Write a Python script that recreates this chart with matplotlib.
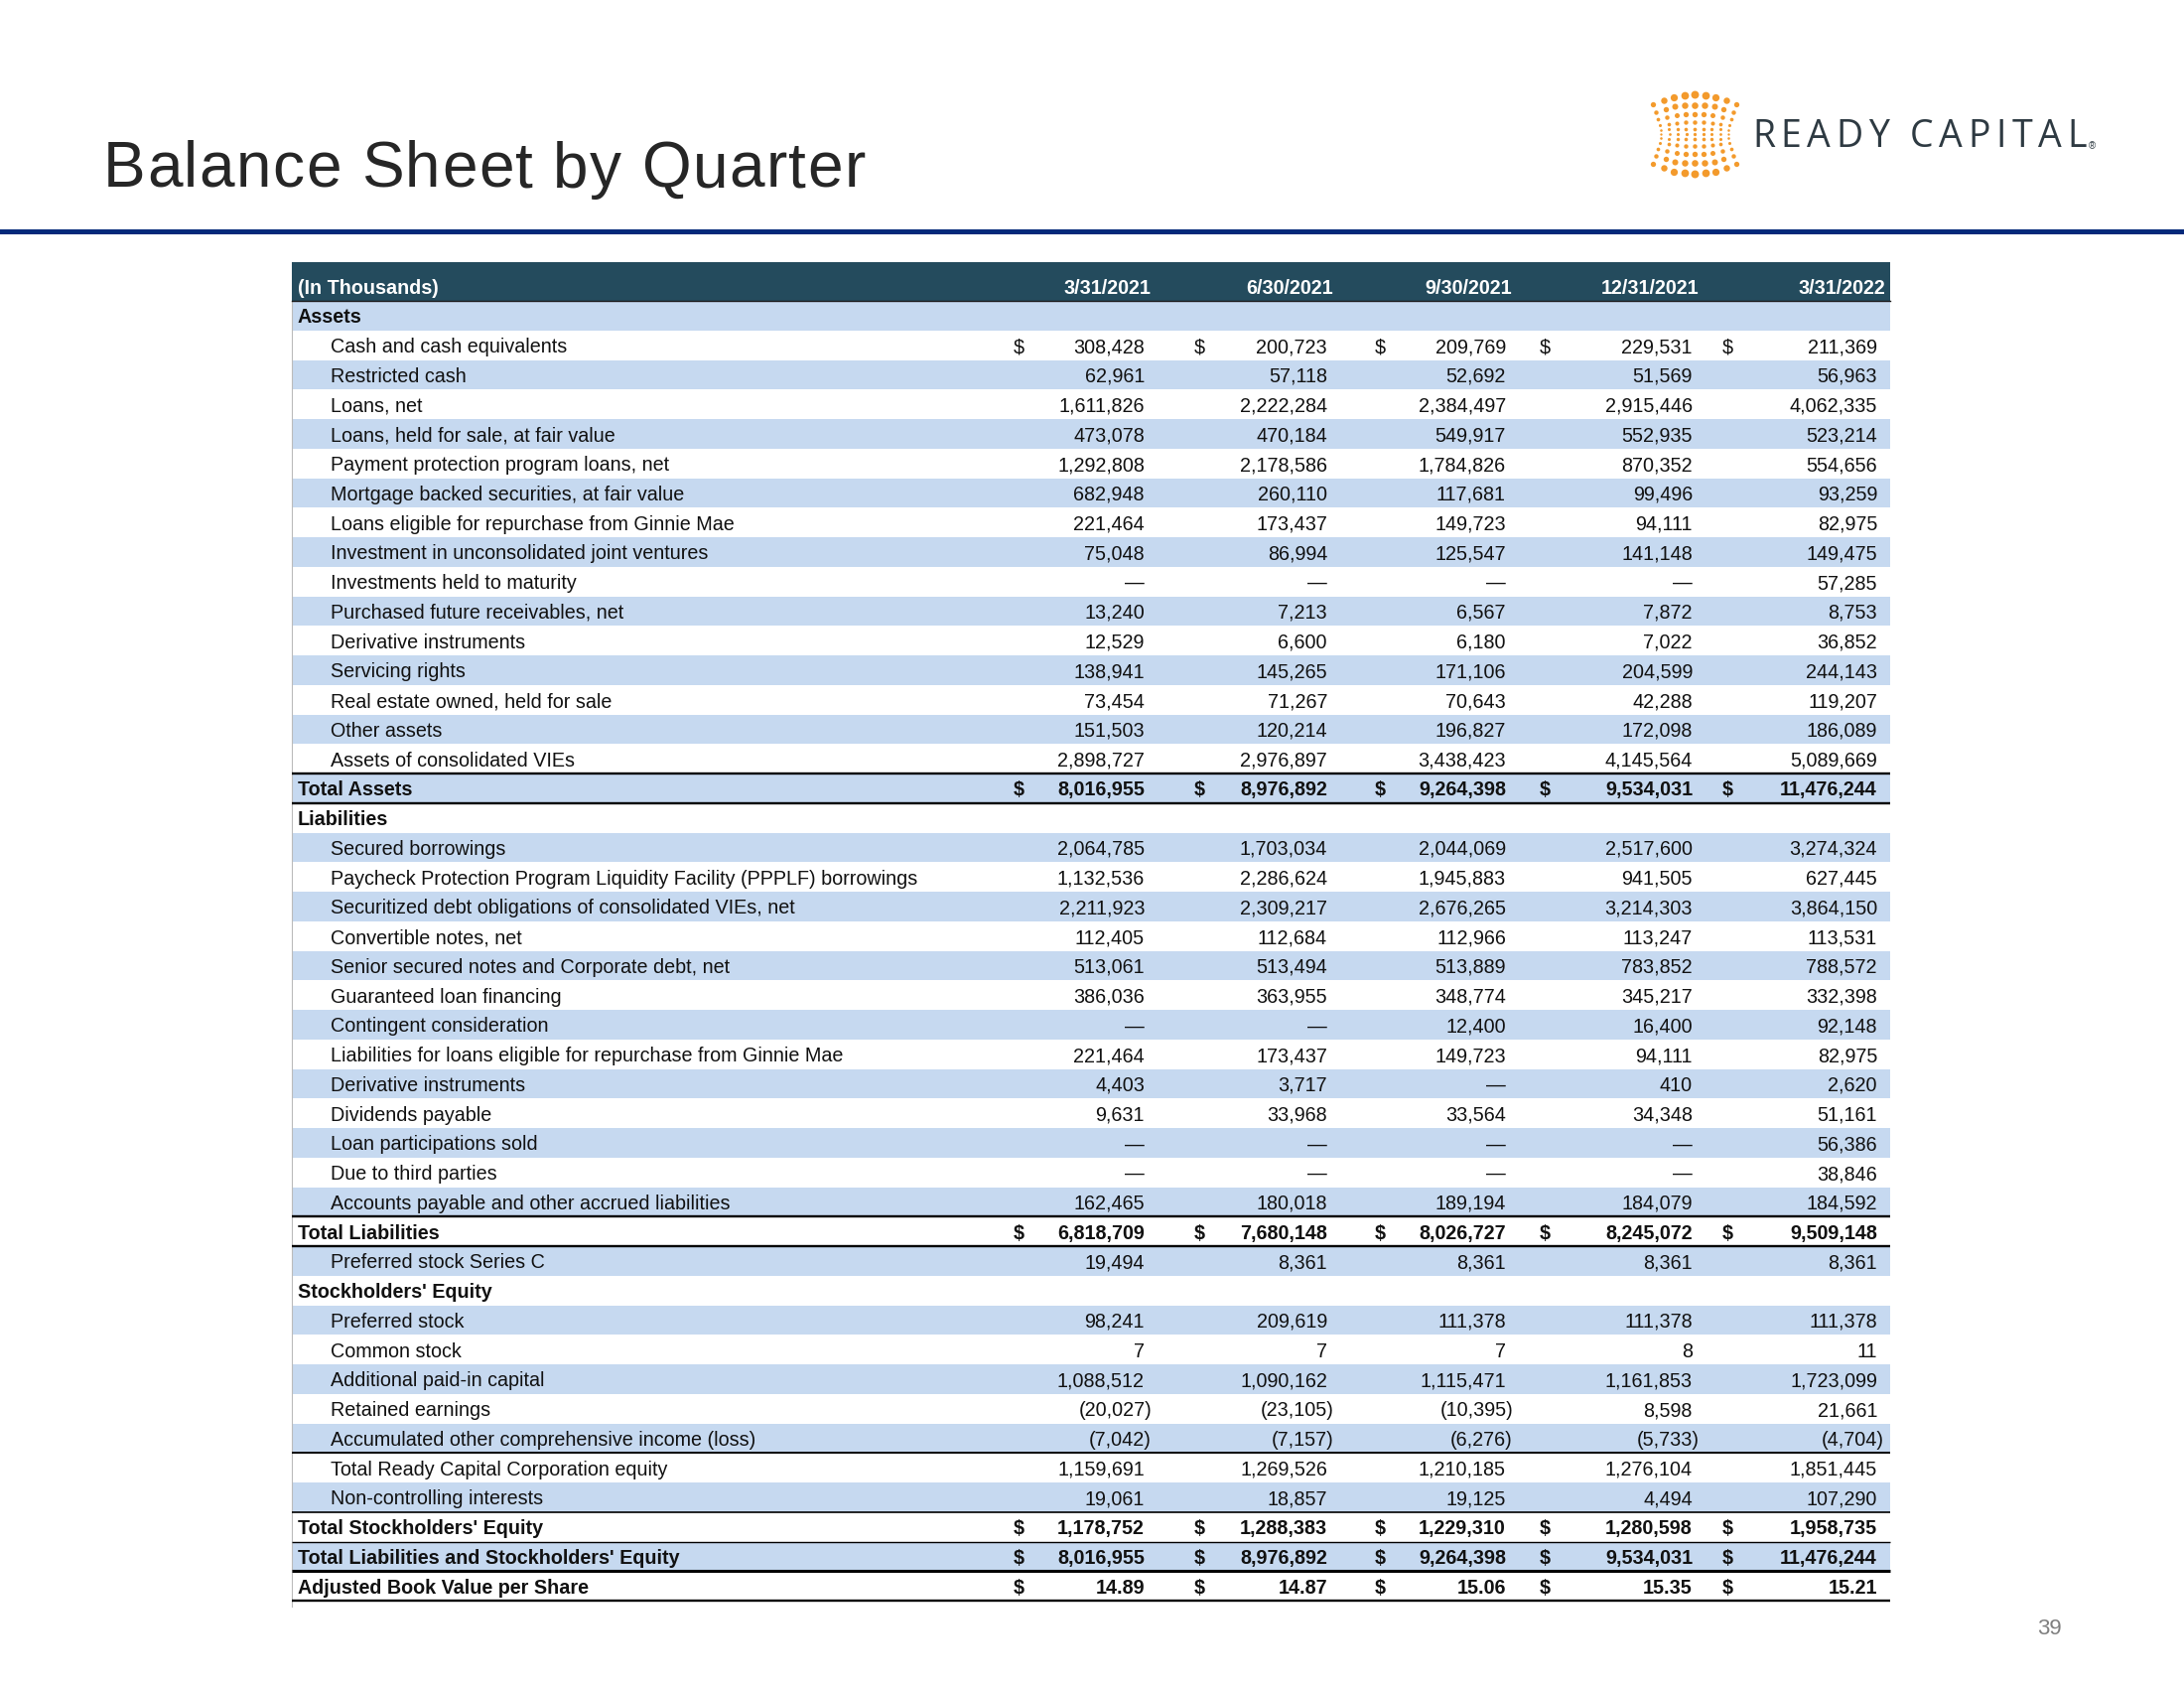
import numpy as np
import matplotlib
matplotlib.use("Agg")
import matplotlib.pyplot as plt
from matplotlib.patches import Rectangle
from matplotlib.font_manager import FontProperties

# ---------------------------------------------------------------------------
# Data (in thousands); None = blank cell, 0 = dash
# ---------------------------------------------------------------------------
quarters = ["3/31/2021", "6/30/2021", "9/30/2021", "12/31/2021", "3/31/2022"]

labels = [
    "Assets",
    "Cash and cash equivalents",
    "Restricted cash",
    "Loans, net",
    "Loans, held for sale, at fair value",
    "Payment protection program loans, net",
    "Mortgage backed securities, at fair value",
    "Loans eligible for repurchase from Ginnie Mae",
    "Investment in unconsolidated joint ventures",
    "Investments held to maturity",
    "Purchased future receivables, net",
    "Derivative instruments",
    "Servicing rights",
    "Real estate owned, held for sale",
    "Other assets",
    "Assets of consolidated VIEs",
    "Total Assets",
    "Liabilities",
    "Secured borrowings",
    "Paycheck Protection Program Liquidity Facility (PPPLF) borrowings",
    "Securitized debt obligations of consolidated VIEs, net",
    "Convertible notes, net",
    "Senior secured notes and Corporate debt, net",
    "Guaranteed loan financing",
    "Contingent consideration",
    "Liabilities for loans eligible for repurchase from Ginnie Mae",
    "Derivative instruments",
    "Dividends payable",
    "Loan participations sold",
    "Due to third parties",
    "Accounts payable and other accrued liabilities",
    "Total Liabilities",
    "Preferred stock Series C",
    "Stockholders' Equity",
    "Preferred stock",
    "Common stock",
    "Additional paid-in capital",
    "Retained earnings",
    "Accumulated other comprehensive income (loss)",
    "Total Ready Capital Corporation equity",
    "Non-controlling interests",
    "Total Stockholders' Equity",
    "Total Liabilities and Stockholders' Equity",
    "Adjusted Book Value per Share",
]

# s = section header, i = indented item, t = bold total
kinds = (["s"] + ["i"] * 15 + ["t", "s"] + ["i"] * 13 + ["t", "i", "s"]
         + ["i"] * 7 + ["t", "t", "t"])

dollar_rows = ["Cash and cash equivalents", "Total Assets", "Total Liabilities",
               "Total Stockholders' Equity",
               "Total Liabilities and Stockholders' Equity",
               "Adjusted Book Value per Share"]

q1 = [None, 308428, 62961, 1611826, 473078, 1292808, 682948, 221464, 75048, 0,
      13240, 12529, 138941, 73454, 151503, 2898727, 8016955,
      None, 2064785, 1132536, 2211923, 112405, 513061, 386036, 0, 221464,
      4403, 9631, 0, 0, 162465, 6818709, 19494,
      None, 98241, 7, 1088512, -20027, -7042, 1159691, 19061, 1178752,
      8016955, 14.89]
q2 = [None, 200723, 57118, 2222284, 470184, 2178586, 260110, 173437, 86994, 0,
      7213, 6600, 145265, 71267, 120214, 2976897, 8976892,
      None, 1703034, 2286624, 2309217, 112684, 513494, 363955, 0, 173437,
      3717, 33968, 0, 0, 180018, 7680148, 8361,
      None, 209619, 7, 1090162, -23105, -7157, 1269526, 18857, 1288383,
      8976892, 14.87]
q3 = [None, 209769, 52692, 2384497, 549917, 1784826, 117681, 149723, 125547, 0,
      6567, 6180, 171106, 70643, 196827, 3438423, 9264398,
      None, 2044069, 1945883, 2676265, 112966, 513889, 348774, 12400, 149723,
      0, 33564, 0, 0, 189194, 8026727, 8361,
      None, 111378, 7, 1115471, -10395, -6276, 1210185, 19125, 1229310,
      9264398, 15.06]
q4 = [None, 229531, 51569, 2915446, 552935, 870352, 99496, 94111, 141148, 0,
      7872, 7022, 204599, 42288, 172098, 4145564, 9534031,
      None, 2517600, 941505, 3214303, 113247, 783852, 345217, 16400, 94111,
      410, 34348, 0, 0, 184079, 8245072, 8361,
      None, 111378, 8, 1161853, 8598, -5733, 1276104, 4494, 1280598,
      9534031, 15.35]
q5 = [None, 211369, 56963, 4062335, 523214, 554656, 93259, 82975, 149475, 57285,
      8753, 36852, 244143, 119207, 186089, 5089669, 11476244,
      None, 3274324, 627445, 3864150, 113531, 788572, 332398, 92148, 82975,
      2620, 51161, 56386, 38846, 184592, 9509148, 8361,
      None, 111378, 11, 1723099, 21661, -4704, 1851445, 107290, 1958735,
      11476244, 15.21]
columns = [q1, q2, q3, q4, q5]

# ---------------------------------------------------------------------------
# Layout (pixel coordinates of a 2200 x 1700 slide)
# ---------------------------------------------------------------------------
W, H = 2200, 1700
LEFT, RIGHT = 294, 1904
HEAD_TOP, HEAD_BOT = 264, 303
ROW_H = 29.75
X_SECTION, X_ITEM = 300, 333
NUM_R = [1153, 1337, 1517, 1705, 1891]
DOLLAR_X = [1026, 1208, 1390, 1556, 1740]
DATE_R = [1159, 1343, 1523, 1711, 1899]

C_HEAD = "#244B5D"
C_BAND = "#C6D9F0"
C_NAVY = "#03297A"
C_TEXT = "#111111"
FONT = ["Liberation Sans", "DejaVu Sans"]
FS = 14.2

fig = plt.figure(figsize=(22, 17), dpi=100, facecolor="white")
ax = fig.add_axes([0, 0, 1, 1])
ax.set_xlim(0, W)
ax.set_ylim(H, 0)
ax.axis("off")
renderer = fig.canvas.get_renderer()


def tracked(x, y, s, size, track, family, color):
    """Draw text letter by letter with extra spacing (px)."""
    prop = FontProperties(family=family, size=size)
    bar_w = renderer.get_text_width_height_descent("|", prop, ismath=False)[0]
    for k, ch in enumerate(s):
        off = 0.0
        if k:
            off = renderer.get_text_width_height_descent(
                s[:k] + "|", prop, ismath=False)[0] - bar_w
        ax.text(x + off + k * track, y, ch, fontproperties=prop, color=color,
                va="baseline", ha="left")


# ── Title & rule ──────────────────────────────────────────────────────────
tracked(104, 188, "Balance Sheet by Quarter", 46, 1.4, FONT, "#262626")
ax.add_patch(Rectangle((0, 231), W, 5, color=C_NAVY, lw=0))

# ── Logo ──────────────────────────────────────────────────────────────────
cx, cy = 1707, 135
for i in range(-4, 5):
    u = i / 4
    for j in range(-5, 6):
        v = j / 5
        amp = 30 + 10 * (1 - u * u)
        y = cy + amp * v * (0.6 + 0.4 * abs(v))
        x = cx + u * (34 + 8 * v * v)
        d = 2.3 + 4.6 * abs(v) ** 1.5 * (1 - 0.35 * u * u) + 1.0 * (1 - u * u)
        ax.scatter(x, y, s=(d * 0.72) ** 2, color="#F39A2C", lw=0, zorder=3)
tracked(1765, 148, "READY CAPITAL", 27, 5.6, ["Open Sans", "DejaVu Sans"],
        "#2E3A42")
ax.text(2104, 150, "®", fontsize=7, color="#2E3A42", family=FONT,
        va="baseline", ha="left")

# ── Table header ──────────────────────────────────────────────────────────
ax.add_patch(Rectangle((LEFT, HEAD_TOP), RIGHT - LEFT, HEAD_BOT - HEAD_TOP,
                       color=C_HEAD, lw=0))
hy = 290
ax.text(X_SECTION, hy, "(In Thousands)", fontsize=FS, fontweight="bold",
        color="white", family=FONT, va="center", ha="left")
for q, xr in zip(quarters, DATE_R):
    ax.text(xr, hy, q, fontsize=FS, fontweight="bold", color="white",
            family=FONT, va="center", ha="right")
ax.plot([LEFT, RIGHT], [HEAD_BOT, HEAD_BOT], color="#1a1a1a", lw=1)


def fmt(v):
    if v == 0:
        return "—"
    if isinstance(v, float):
        return f"{v:.2f}"
    if v < 0:
        return f"({abs(v):,})"
    return f"{v:,}"


# ── Rows ──────────────────────────────────────────────────────────────────
for r, (lab, kind) in enumerate(zip(labels, kinds)):
    top = HEAD_BOT + r * ROW_H
    yc = top + ROW_H / 2 + 2
    if r % 2 == 0:
        ax.add_patch(Rectangle((LEFT, top), RIGHT - LEFT, ROW_H,
                               color=C_BAND, lw=0, zorder=0))
    bold = kind in ("s", "t")
    lx = X_ITEM if kind == "i" else X_SECTION
    ax.text(lx, yc, lab, fontsize=FS, fontweight="bold" if bold else "normal",
            color=C_TEXT, family=FONT, va="center", ha="left")
    for col, xr, xd in zip(columns, NUM_R, DOLLAR_X):
        v = col[r]
        if v is None:
            continue
        s = fmt(v)
        shift = 7 if (not isinstance(v, float) and v < 0) else 0
        ax.text(xr + shift, yc, s, fontsize=FS,
                fontweight="bold" if kind == "t" else "normal",
                color=C_TEXT, family=FONT, va="center", ha="right")
        if lab in dollar_rows:
            ax.text(xd, yc, "$", fontsize=FS,
                    fontweight="bold" if kind == "t" else "normal",
                    color=C_TEXT, family=FONT, va="center", ha="center")


# ── Rules ─────────────────────────────────────────────────────────────────
def rule(row_idx, lw):
    y = HEAD_BOT + row_idx * ROW_H
    ax.plot([LEFT, RIGHT], [y, y], color="black", lw=lw, zorder=4,
            solid_capstyle="butt")


ta = labels.index("Total Assets")
tl = labels.index("Total Liabilities")
rule(ta, 1.7)
rule(ta + 1, 1.7)
rule(tl, 1.7)
rule(tl + 1, 1.7)
rule(labels.index("Total Ready Capital Corporation equity"), 1.4)
rule(labels.index("Total Stockholders' Equity"), 1.2)
rule(labels.index("Total Liabilities and Stockholders' Equity"), 1.0)
rule(labels.index("Adjusted Book Value per Share"), 2.2)
rule(len(labels), 1.7)

ax.plot([LEFT, LEFT], [HEAD_TOP, HEAD_BOT + len(labels) * ROW_H + 6],
        color="#BBBBBB", lw=0.8, zorder=0)

# ── Page number ───────────────────────────────────────────────────────────
ax.text(2064, 1640, "39", fontsize=16, color="#7F7F7F", family=FONT,
        va="center", ha="center")

fig.savefig("out.png", dpi=100, facecolor="white")
